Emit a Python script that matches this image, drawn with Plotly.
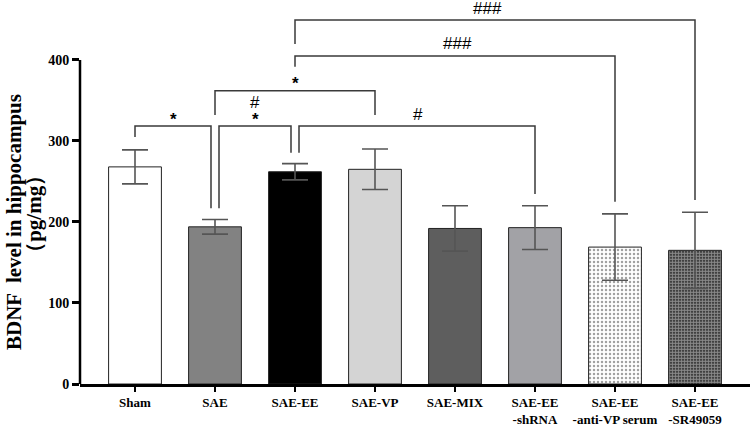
import plotly.graph_objects as go

categories = ["Sham", "SAE", "SAE-EE", "SAE-VP", "SAE-MIX",
              "SAE-EE<br>-shRNA", "SAE-EE<br>-anti-VP serum", "SAE-EE<br>-SR49059"]
means = [268, 194, 262, 265, 192, 193, 169, 165]
errors = [21, 9, 10, 25, 28, 27, 41, 47]
y_ticks = [0, 100, 200, 300, 400]

# significance brackets: (x_left, x_right, y_top, y_left_end, y_right_end)
brackets = [
    (0, 0.95, 318.5, 305, 217),
    (1.05, 1.95, 318.5, 217, 285.5),
    (2.05, 5, 318.5, 285.5, 234.6),
    (1, 3, 362, 332, 332),
    (2, 6, 405, 391.7, 225),
    (2, 7, 449.4, 419.8, 227),
]
# significance labels: (x, y, text)
sig_labels = [
    (0.475, 327, "*"),
    (1.5, 327, "*"),
    (1.5, 348, "#"),
    (2.0, 371.5, "*"),
    (3.54, 333, "#"),
    (4.025, 420, "###"),
    (4.41, 463, "###"),
]

fills = ["#ffffff", "#828282", "#000000", "#d4d4d4", "#5e5e5e", "#a2a2a6", "#ffffff", "#111111"]
shapes_pat = ["", "", "", "", "", "", ".", "."]
pat_fg = ["#000000", "#000000", "#000000", "#000000", "#000000", "#000000", "#222222", "#ffffff"]
pat_size = [8, 8, 8, 8, 8, 8, 4, 3]
pat_sol = [0.2, 0.2, 0.2, 0.2, 0.2, 0.2, 0.3, 0.72]

xs = list(range(len(categories)))

fig = go.Figure()
fig.add_trace(go.Bar(
    x=xs, y=means, width=0.66,
    marker=dict(color=fills, line=dict(color="#222222", width=1),
                pattern=dict(shape=shapes_pat, fgcolor=pat_fg, size=pat_size,
                             solidity=pat_sol, fillmode="overlay")),
    error_y=dict(type="data", array=errors, visible=True, color="#555555",
                 thickness=1.6, width=13),
    showlegend=False,
))

line_col = "#3a3a3a"
for (xl, xr, yt, yle, yre) in brackets:
    fig.add_shape(type="path",
                  path=f"M {xl},{yle} L {xl},{yt} L {xr},{yt} L {xr},{yre}",
                  xref="x", yref="y", line=dict(color=line_col, width=1.5))

for (x, y, t) in sig_labels:
    if t == "*":
        f = dict(family="Liberation Sans", size=17, color="black", weight="bold")
    else:
        f = dict(family="Liberation Sans", size=17, color="black")
    fig.add_annotation(x=x, y=y, xref="x", yref="y", text=t, showarrow=False,
                       font=f, yanchor="middle")

# y axis line only up to 400
fig.add_shape(type="line", xref="paper", yref="y", x0=0, x1=0, y0=0, y1=400,
              line=dict(color="black", width=2.5))

title_font = dict(family="Liberation Serif", size=21, color="black", weight="bold")
fig.add_annotation(text="BDNF  level in hippocampus", xref="paper", yref="y",
                   x=-0.0985, y=200, xanchor="center", yanchor="middle",
                   textangle=-90, showarrow=False, font=title_font)
fig.add_annotation(text="（pg/mg）", xref="paper", yref="y",
                   x=-0.0687, y=210, xanchor="center", yanchor="middle",
                   textangle=-90, showarrow=False, font=title_font)

fig.update_layout(
    width=750, height=425,
    margin=dict(l=80, r=0, t=0, b=41),
    plot_bgcolor="white", paper_bgcolor="white",
    xaxis=dict(range=[-0.6875, 7.6875], tickmode="array", tickvals=xs,
               ticktext=categories, showline=True, linecolor="black", linewidth=2.5,
               ticks="outside", ticklen=5, tickwidth=2, tickcolor="black",
               showgrid=False, zeroline=False, automargin=False,
               tickfont=dict(family="Liberation Serif", size=13, color="black", weight="bold")),
    yaxis=dict(range=[0, 474], tickmode="array", tickvals=y_ticks,
               showline=False, ticks="outside", ticklen=7, tickwidth=2.5,
               tickcolor="black", showgrid=False, zeroline=False, automargin=False,
               tickfont=dict(family="Liberation Serif", size=14, color="black", weight="bold")),
)

fig.write_html("out.html", config={"displayModeBar": False},
               post_script="document.body.style.margin='0';")
